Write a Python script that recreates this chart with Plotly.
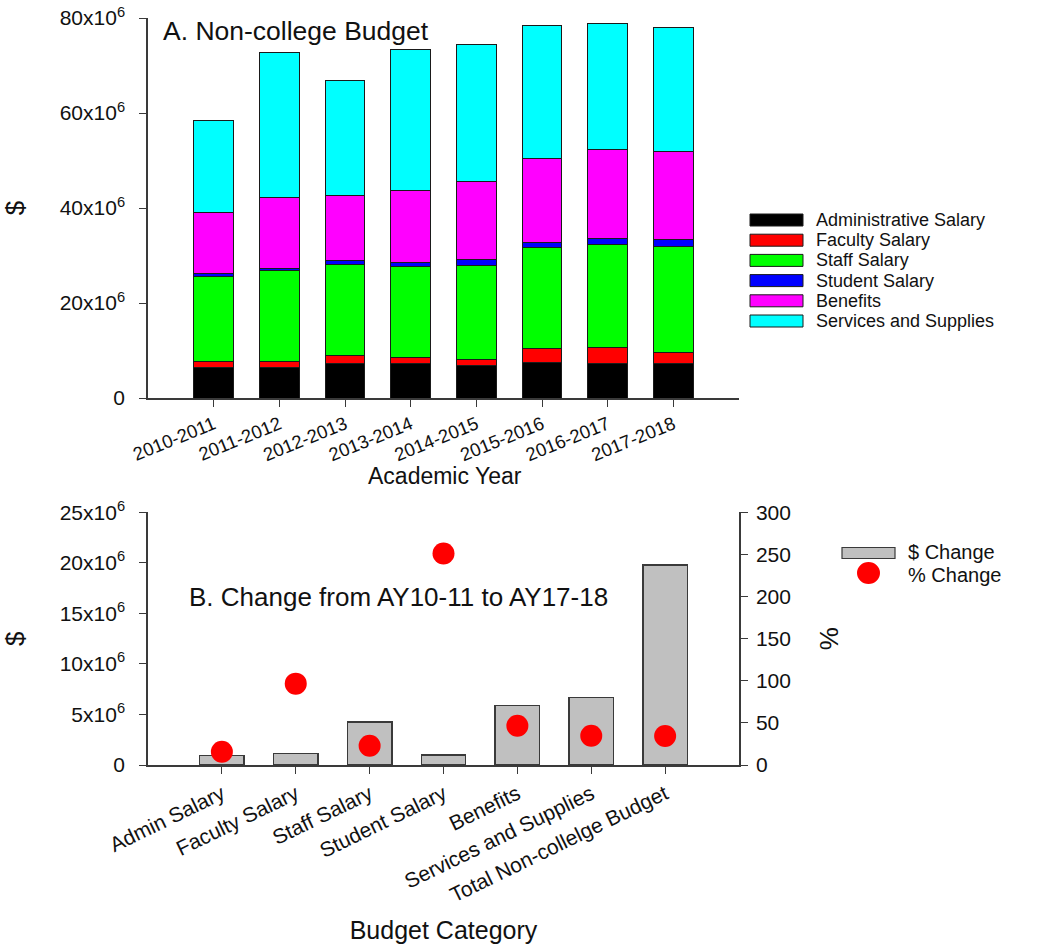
import plotly.graph_objects as go

# ---------------- data ----------------
years = ["2010-2011", "2011-2012", "2012-2013", "2013-2014",
         "2014-2015", "2015-2016", "2016-2017", "2017-2018"]
admin_salary   = [6.45e6, 6.45e6, 7.16e6, 7.30e6, 6.87e6, 7.37e6, 7.30e6, 7.30e6]
faculty_salary = [1.15e6, 1.20e6, 1.80e6, 1.15e6, 1.25e6, 3.15e6, 3.40e6, 2.20e6]
staff_salary   = [18.0e6, 19.25e6, 19.05e6, 19.3e6, 19.8e6, 21.1e6, 21.6e6, 22.4e6]
student_salary = [0.60e6, 0.40e6, 0.85e6, 0.85e6, 1.15e6, 1.10e6, 1.20e6, 1.45e6]
benefits       = [12.9e6, 14.9e6, 13.8e6, 15.15e6, 16.45e6, 17.6e6, 18.8e6, 18.5e6]
services       = [19.3e6, 30.6e6, 24.25e6, 29.6e6, 29.0e6, 28.1e6, 26.5e6, 26.2e6]

series_names = ["Administrative Salary", "Faculty Salary", "Staff Salary",
                "Student Salary", "Benefits", "Services and Supplies"]
series_values = [admin_salary, faculty_salary, staff_salary,
                 student_salary, benefits, services]
series_colors = ["#000000", "#FF0000", "#00FF00", "#0000FF", "#FF00FF", "#00FFFF"]

categories = ["Admin Salary", "Faculty Salary", "Staff Salary", "Student Salary",
              "Benefits", "Services and Supplies", "Total Non-collelge Budget"]
dollar_change  = [0.96e6, 1.16e6, 4.23e6, 0.99e6, 5.87e6, 6.70e6, 19.8e6]
percent_change = [15.8, 96.6, 22.9, 251.0, 46.7, 34.8, 34.4]

top_ticks = [0, 20e6, 40e6, 60e6, 80e6]
top_ticktext = ["0", "20x10<sup>6</sup>", "40x10<sup>6</sup>", "60x10<sup>6</sup>", "80x10<sup>6</sup>"]
bot_ticks = [0, 5e6, 10e6, 15e6, 20e6, 25e6]
bot_ticktext = ["0", "5x10<sup>6</sup>", "10x10<sup>6</sup>", "15x10<sup>6</sup>",
                "20x10<sup>6</sup>", "25x10<sup>6</sup>"]
pct_ticks = [0, 50, 100, 150, 200, 250, 300]

# ---------------- layout geometry (pixels) ----------------
W, H = 1051, 946
L, R, T, B = 148, 312, 18, 181
PW, PH = W - L - R, H - T - B


def px2x(px):
    return (px - L) / PW


def px2y(py):
    return (H - B - py) / PH


FONT = "Liberation Sans, Arial, sans-serif"
AXC = "#3a3a3a"

fig = go.Figure()

for name, vals, col in zip(series_names, series_values, series_colors):
    fig.add_trace(go.Bar(x=years, y=vals, name=name, marker=dict(color=col, line=dict(color="#1a1a1a", width=1)),
                         xaxis="x", yaxis="y", showlegend=False))

fig.add_trace(go.Bar(x=categories, y=dollar_change, name="$ Change",
                     marker=dict(color="#C0C0C0", line=dict(color="#3a3a3a", width=1.5)),
                     xaxis="x2", yaxis="y2", showlegend=False))
fig.add_trace(go.Scatter(x=categories, y=percent_change, name="% Change", mode="markers",
                         marker=dict(color="#FF0000", size=22, line=dict(width=0)),
                         xaxis="x2", yaxis="y3", showlegend=False))

axis_common = dict(showline=True, linecolor=AXC, linewidth=1.5, ticks="outside",
                   ticklen=7, tickwidth=1.2, tickcolor=AXC, showgrid=False, zeroline=False,
                   automargin=False)
yfont = dict(family=FONT, size=21, color="#111")

top_bottom = (H - B - 398) / PH

fig.update_layout(
    width=W, height=H, template="none",
    margin=dict(l=L, r=R, t=T, b=B, pad=0),
    paper_bgcolor="white", plot_bgcolor="white",
    barmode="stack", bargap=0.4,
    font=dict(family=FONT, color="#111"),
    xaxis=dict(domain=[0, 1], anchor="y", range=[-1, 8], type="category", tickangle=-22,
               tickfont=dict(family=FONT, size=18.5, color="#111"), **axis_common),
    yaxis=dict(domain=[top_bottom, 1], anchor="x", range=[0, 80e6],
               tickvals=top_ticks, ticktext=top_ticktext, tickfont=yfont, ticklabelstandoff=10,
               title=dict(text="$", font=dict(family=FONT, size=26), standoff=29),
               **axis_common),
    xaxis2=dict(domain=[0, 1], anchor="y2", range=[-1, 7], type="category", tickangle=-26,
                tickfont=dict(family=FONT, size=21, color="#111"),
                title=dict(text="Budget Category", font=dict(family=FONT, size=25), standoff=16),
                **axis_common),
    yaxis2=dict(domain=[0, (765 - 512.3) / PH], anchor="x2", range=[0, 25e6],
                tickvals=bot_ticks, ticktext=bot_ticktext, tickfont=yfont, ticklabelstandoff=10,
                title=dict(text="$", font=dict(family=FONT, size=26), standoff=29),
                **axis_common),
    yaxis3=dict(overlaying="y2", side="right", anchor="x2", range=[0, 300],
                tickvals=pct_ticks, tickfont=yfont, ticklabelstandoff=4,
                title=dict(text="%", font=dict(family=FONT, size=26), standoff=30),
                **axis_common),
)

shapes = []
annotations = []

# x-axis title of panel A (placed tightly under the slanted tick labels)
annotations.append(dict(x=px2x(445), y=px2y(476), xref="paper", yref="paper", text="Academic Year",
                        showarrow=False, xanchor="center", yanchor="middle", borderpad=0,
                        font=dict(family=FONT, size=23, color="#111")))

# panel titles
annotations.append(dict(x=px2x(161), y=px2y(31), xref="paper", yref="paper", text="A. Non-college Budget",
                        showarrow=False, xanchor="left", yanchor="middle",
                        font=dict(family=FONT, size=26.5, color="#111")))
annotations.append(dict(x=px2x(187), y=px2y(597), xref="paper", yref="paper",
                        text="B. Change from AY10-11 to AY17-18",
                        showarrow=False, xanchor="left", yanchor="middle",
                        font=dict(family=FONT, size=26, color="#111")))

# legend A
row_y = [220, 240.2, 260.4, 280.6, 300.8, 321]
for name, col, yy in zip(series_names, series_colors, row_y):
    shapes.append(dict(type="rect", xref="paper", yref="paper",
                       x0=px2x(750), x1=px2x(803), y0=px2y(yy + 6), y1=px2y(yy - 6),
                       fillcolor=col, line=dict(color="#1a1a1a", width=1)))
    annotations.append(dict(x=px2x(815), y=px2y(yy), xref="paper", yref="paper", text=name,
                            showarrow=False, xanchor="left", yanchor="middle", borderpad=0,
                            font=dict(family=FONT, size=18, color="#111")))

# legend B
shapes.append(dict(type="rect", xref="paper", yref="paper",
                   x0=px2x(842), x1=px2x(895), y0=px2y(558.5), y1=px2y(547.5),
                   fillcolor="#C0C0C0", line=dict(color="#3a3a3a", width=1.2)))
shapes.append(dict(type="circle", xref="paper", yref="paper",
                   x0=px2x(857), x1=px2x(880), y0=px2y(584), y1=px2y(562),
                   fillcolor="#FF0000", line=dict(width=0)))
annotations.append(dict(x=px2x(907), y=px2y(552), xref="paper", yref="paper", text="$ Change",
                        showarrow=False, xanchor="left", yanchor="middle", borderpad=0,
                        font=dict(family=FONT, size=20, color="#111")))
annotations.append(dict(x=px2x(907), y=px2y(575), xref="paper", yref="paper", text="% Change",
                        showarrow=False, xanchor="left", yanchor="middle", borderpad=0,
                        font=dict(family=FONT, size=20, color="#111")))

fig.update_layout(shapes=shapes, annotations=annotations)

fig.write_html("out.html")
